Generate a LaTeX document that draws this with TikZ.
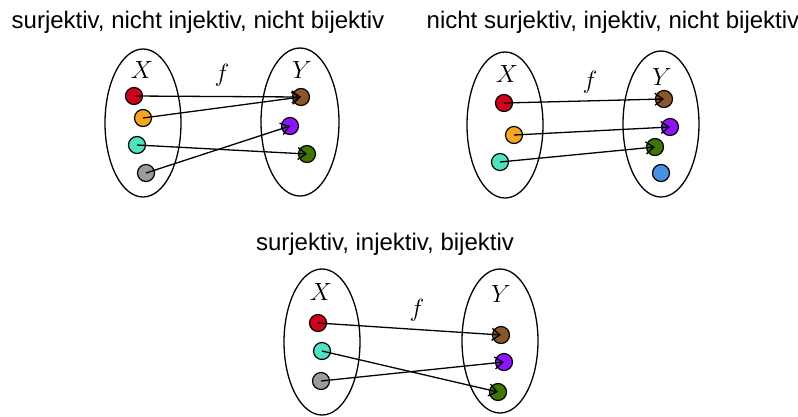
\documentclass[tikz,border=0pt]{standalone}
\usepackage{fontspec}
\setmainfont{Liberation Sans}
\usetikzlibrary{arrows.meta}
\definecolor{cred}{HTML}{D0021B}
\definecolor{corange}{HTML}{F5A623}
\definecolor{ccyan}{HTML}{50E3C2}
\definecolor{cgray}{HTML}{9B9B9B}
\definecolor{cbrown}{HTML}{8B572A}
\definecolor{cpurple}{HTML}{9013FE}
\definecolor{cgreen}{HTML}{417505}
\definecolor{cblue}{HTML}{4A90E2}
\tikzset{
  setell/.style={draw, line width=1.3pt},
  dot/.style={circle, draw, line width=1.2pt, minimum size=17pt, inner sep=0pt, fill=#1},
  maparrow/.style={line width=1.3pt, -{Straight Barb[length=8pt,width=12pt]}},
  title/.style={font=\fontsize{24}{28}\selectfont, inner sep=0pt},
  mlab/.style={font=\fontsize{26}{30}\selectfont, inner sep=0pt}
}
\begin{document}
\begin{tikzpicture}[x=1pt,y=-1pt]
\useasboundingbox (0,0) rectangle (798,416);
% Panel 1
\node[title] (t1) at (198,22) {surjektiv, nicht injektiv, nicht bijektiv};
\draw[setell] (143,123) ellipse [x radius=38, y radius=74];
\draw[setell] (300,122) ellipse [x radius=39, y radius=74];
\node[mlab] (x1) at (142,70) {$X$};
\node[mlab] (y1) at (302,70) {$Y$};
\node[mlab] (f1) at (222,75) {$f$};
\node[dot=cred] (a1) at (134,96) {};
\node[dot=corange] (b1) at (143,118) {};
\node[dot=ccyan] (c1) at (137,145) {};
\node[dot=cgray] (d1) at (146,173) {};
\node[dot=cbrown] (p1) at (301,97) {};
\node[dot=cpurple] (q1) at (290,126) {};
\node[dot=cgreen] (r1) at (307,154) {};
\draw[maparrow] (a1.center) -- (p1.center);
\draw[maparrow] (b1.center) -- (p1.center);
\draw[maparrow] (c1.center) -- (r1.center);
\draw[maparrow] (d1.center) -- (q1.center);
% Panel 2
\node[title] (t2) at (613,22) {nicht surjektiv, injektiv, nicht bijektiv};
\draw[setell] (505,125) ellipse [x radius=38, y radius=73];
\draw[setell] (661,124) ellipse [x radius=38, y radius=73];
\node[mlab] (x2) at (507,74) {$X$};
\node[mlab] (y2) at (662,77) {$Y$};
\node[mlab] (f2) at (590,82) {$f$};
\node[dot=cred] (a2) at (504,103) {};
\node[dot=corange] (b2) at (514,135) {};
\node[dot=ccyan] (c2) at (500,162) {};
\node[dot=cbrown] (p2) at (664,99) {};
\node[dot=cpurple] (q2) at (670,127) {};
\node[dot=cgreen] (r2) at (655,147) {};
\node[dot=cblue] (s2) at (661,173) {};
\draw[maparrow] (a2.center) -- (p2.center);
\draw[maparrow] (b2.center) -- (q2.center);
\draw[maparrow] (c2.center) -- (r2.center);
% Panel 3
\node[title] (t3) at (385,244) {surjektiv, injektiv, bijektiv};
\draw[setell] (322,342) ellipse [x radius=38, y radius=73];
\draw[setell] (500,341) ellipse [x radius=38, y radius=72];
\node[mlab] (x3) at (321,292) {$X$};
\node[mlab] (y3) at (501,294) {$Y$};
\node[mlab] (f3) at (417,310) {$f$};
\node[dot=cred] (a3) at (318,323) {};
\node[dot=ccyan] (c3) at (322,351) {};
\node[dot=cgray] (d3) at (321,381) {};
\node[dot=cbrown] (p3) at (501,335) {};
\node[dot=cpurple] (q3) at (504,362) {};
\node[dot=cgreen] (r3) at (498,392) {};
\draw[maparrow] (a3.center) -- (p3.center);
\draw[maparrow] (c3.center) -- (r3.center);
\draw[maparrow] (d3.center) -- (q3.center);
\end{tikzpicture}
\end{document}
